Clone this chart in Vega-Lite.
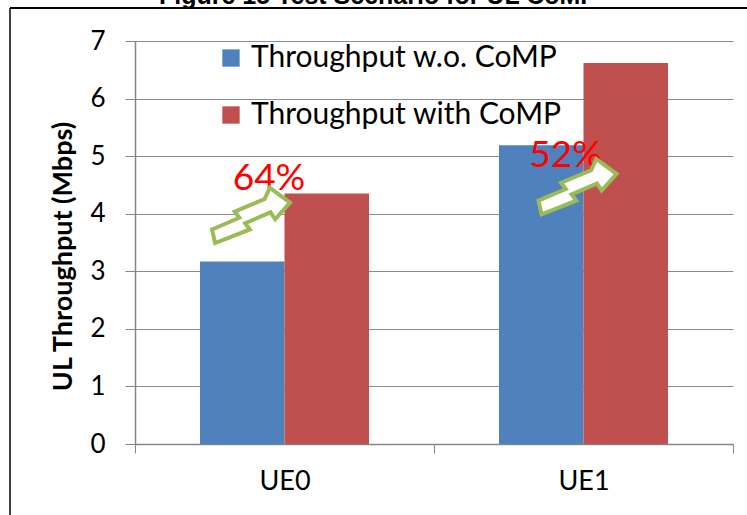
{
  "$schema": "https://vega.github.io/schema/vega-lite/v6.json",
  "width": 598,
  "height": 403,
  "autosize": {"type": "none"},
  "padding": {"left": 135, "top": 41, "right": 14, "bottom": 71},
  "background": "white",
  "config": {
    "view": {"stroke": null},
    "font": "Lato",
    "axisX": {
      "labelAngle": 0,
      "labelFontSize": 27,
      "labelColor": "black",
      "labelPadding": 15,
      "tickBand": "extent",
      "tickSize": 9,
      "tickColor": "#868686",
      "domainColor": "#868686",
      "domainWidth": 1.5,
      "grid": false
    },
    "axisY": {
      "titleFontSize": 27,
      "titleFontWeight": "bold",
      "titleColor": "black",
      "titlePadding": 12,
      "titleY": 215,
      "labelFontSize": 26,
      "labelColor": "black",
      "labelPadding": 20,
      "tickSize": 10,
      "tickColor": "#868686",
      "domainColor": "#868686",
      "domainWidth": 1.5,
      "gridColor": "#8C8C8C",
      "gridWidth": 1,
      "grid": true
    }
  },
  "title": {
    "text": "Figure 15 Test Scenario for UL CoMP",
    "font": "Liberation Sans",
    "fontSize": 25,
    "fontWeight": "bold",
    "color": "black",
    "frame": "group",
    "anchor": "middle",
    "dx": -56,
    "dy": 24,
    "offset": 2,
    "baseline": "alphabetic"
  },
  "datasets": {
    "bars": [
      {"ue": "UE0", "series": "Throughput w.o. CoMP", "value": 3.17},
      {"ue": "UE0", "series": "Throughput with CoMP", "value": 4.35},
      {"ue": "UE1", "series": "Throughput w.o. CoMP", "value": 5.19},
      {"ue": "UE1", "series": "Throughput with CoMP", "value": 6.62}
    ],
    "labels": [
      {"label": "64%", "pos": 0.448, "value": 4.41},
      {"label": "52%", "pos": 1.44, "value": 4.81}
    ],
    "arrows": [
      {"pos": 0.388, "value": 3.97},
      {"pos": 1.48, "value": 4.47}
    ],
    "frame": [{"part": "frame"}]
  },
  "layer": [
    {
      "data": {"name": "bars"},
      "mark": {"type": "bar"},
      "encoding": {
        "x": {
          "field": "ue",
          "type": "nominal",
          "title": null,
          "scale": {"paddingInner": 0, "paddingOuter": 0}
        },
        "xOffset": {
          "field": "series",
          "type": "nominal",
          "scale": {"paddingOuter": 0.769, "paddingInner": 0}
        },
        "y": {
          "field": "value",
          "type": "quantitative",
          "title": "UL Throughput (Mbps)",
          "scale": {"domain": [0, 7], "nice": false},
          "axis": {"values": [0, 1, 2, 3, 4, 5, 6, 7], "format": "d"}
        },
        "color": {
          "field": "series",
          "type": "nominal",
          "scale": {
            "domain": ["Throughput w.o. CoMP", "Throughput with CoMP"],
            "range": ["#4F81BD", "#C0504D"]
          },
          "legend": {
            "title": null,
            "orient": "none",
            "legendX": 81,
            "legendY": 2,
            "direction": "vertical",
            "symbolType": "square",
            "symbolSize": 300,
            "symbolStrokeWidth": 0,
            "labelFontSize": 30,
            "labelColor": "black",
            "labelOffset": 5,
            "labelLimit": 0,
            "rowPadding": 27,
            "padding": 0
          }
        }
      }
    },
    {
      "data": {"name": "labels"},
      "mark": {"type": "text", "color": "#FF0000", "fontSize": 37, "baseline": "alphabetic", "align": "center"},
      "encoding": {
        "x": {"field": "pos", "type": "quantitative", "scale": {"domain": [0, 2]}, "axis": null},
        "y": {"field": "value", "type": "quantitative", "title": "UL Throughput (Mbps)"},
        "text": {"field": "label"}
      }
    },
    {
      "data": {"name": "arrows"},
      "mark": {
        "type": "point",
        "shape": "M -1.0,0.36 L -0.3,0.06 L -0.42,-0.1 L 0.35,-0.42 L 0.48,-0.71 L 1.0,-0.33 L 0.62,0.1 L 0.5,-0.08 L -0.15,0.2 L -0.03,0.36 L -0.92,0.71 Z",
        "size": 6084,
        "filled": true,
        "fill": "white",
        "stroke": "#9BBB59",
        "strokeWidth": 4,
        "opacity": 1
      },
      "encoding": {
        "x": {"field": "pos", "type": "quantitative", "scale": {"domain": [0, 2]}, "axis": null},
        "y": {"field": "value", "type": "quantitative", "title": "UL Throughput (Mbps)"}
      }
    },
    {
      "data": {"name": "frame"},
      "mark": {"type": "rule", "color": "black", "strokeWidth": 2, "clip": false},
      "encoding": {
        "x": {"datum": -0.418, "type": "quantitative", "scale": {"domain": [0, 2]}, "axis": null},
        "x2": {"datum": 2.05},
        "y": {"datum": 7.573, "type": "quantitative", "title": "UL Throughput (Mbps)"}
      }
    },
    {
      "data": {"name": "frame"},
      "mark": {"type": "rule", "color": "black", "strokeWidth": 1.5, "clip": false},
      "encoding": {
        "x": {"datum": -0.418, "type": "quantitative", "scale": {"domain": [0, 2]}, "axis": null},
        "y": {"datum": 7.573, "type": "quantitative", "title": "UL Throughput (Mbps)"},
        "y2": {"datum": -1.3}
      }
    }
  ],
  "resolve": {"scale": {"x": "independent"}}
}
